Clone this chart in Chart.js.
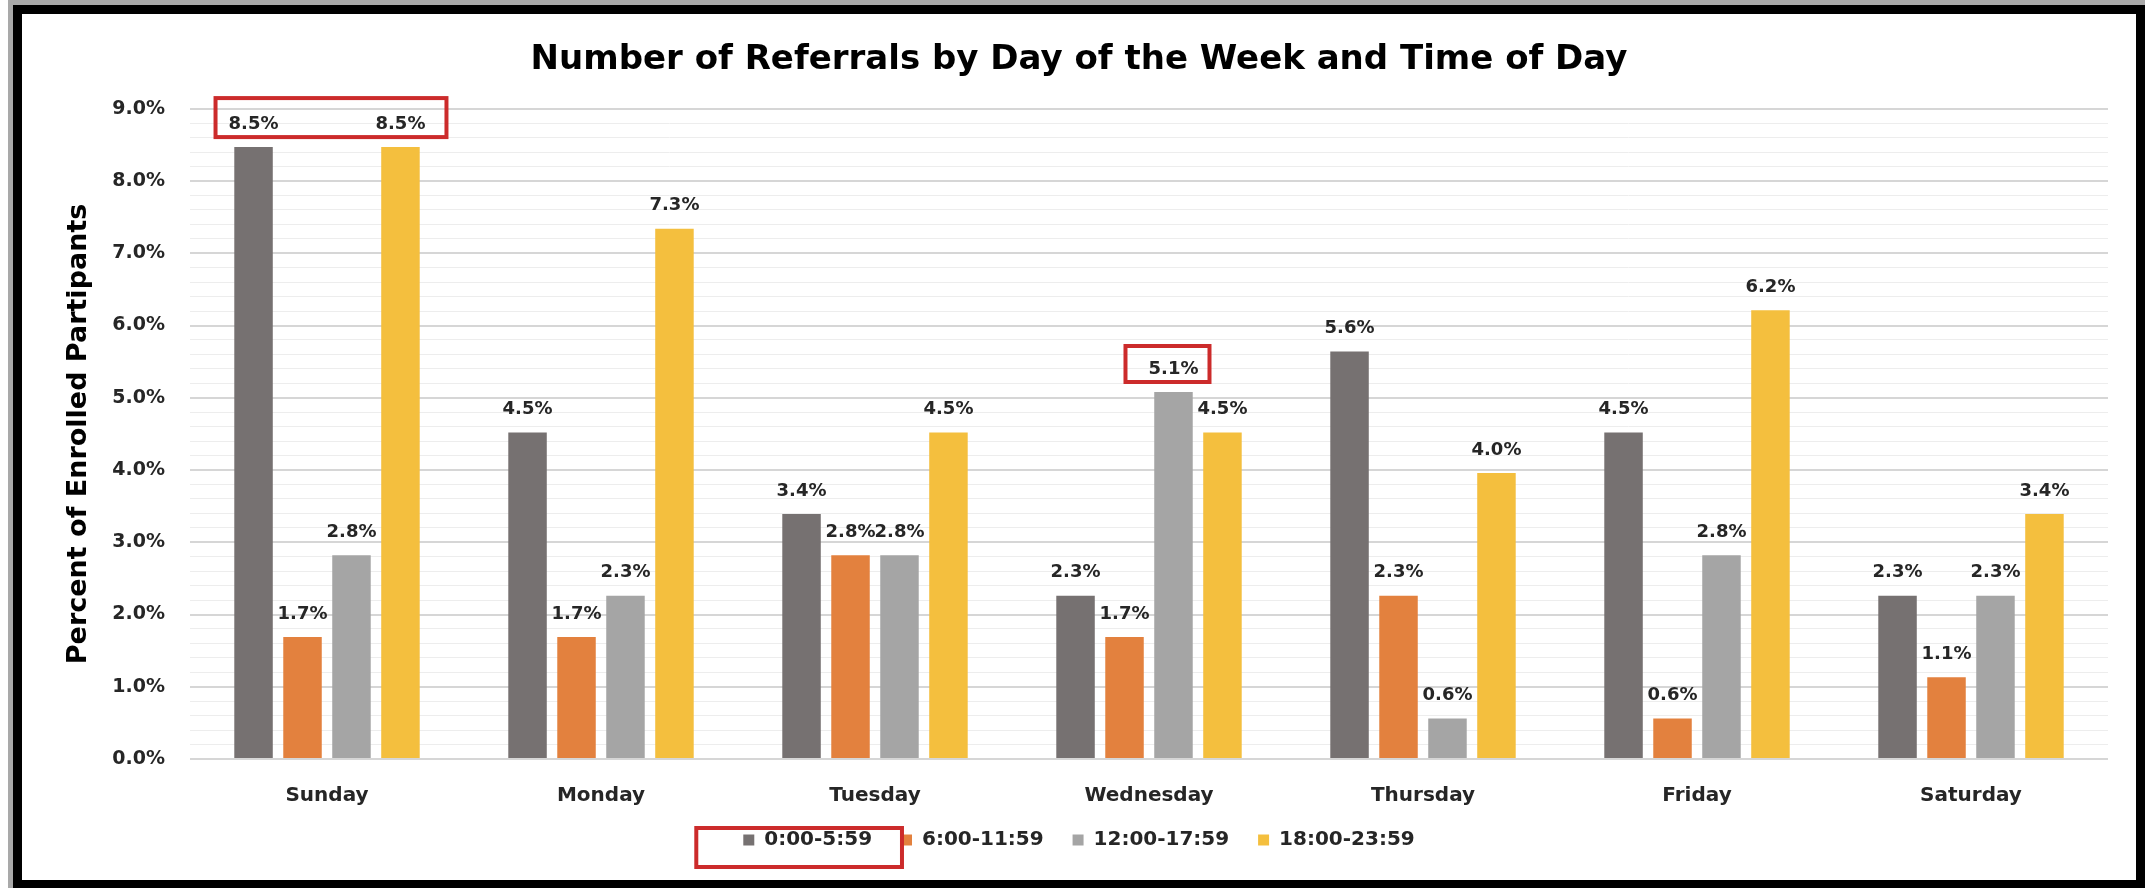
<!DOCTYPE html>
<html>
<head>
<meta charset="utf-8">
<script src="https://cdn.jsdelivr.net/npm/chart.js@4.4.1/dist/chart.umd.min.js"></script>
<style>
    body { margin: 0; background: #fff; }
    #strip { position: absolute; left: 8px; top: 0; width: 2137px; height: 888px; background: #a9a9a9; }
    #frame {
        position: absolute; left: 13px; top: 5px; width: 2132px; height: 883px;
        box-sizing: border-box; border: solid #000; border-width: 9px 9px 8px 9px; background: #fff;
    }
    #wrap { position: absolute; left: 0; top: 0; width: 2114px; height: 866px; }
</style>
</head>
<body>
<div id="strip"></div>
<div id="frame"><div id="wrap"><canvas id="chart"></canvas></div></div>
<script>
// Data
const days = ['Sunday', 'Monday', 'Tuesday', 'Wednesday', 'Thursday', 'Friday', 'Saturday'];
const timeSlots = ['0:00-5:59', '6:00-11:59', '12:00-17:59', '18:00-23:59'];
const night = [8.47, 4.52, 3.39, 2.26, 5.64, 4.52, 2.26];
const morning = [1.69, 1.69, 2.82, 1.69, 2.26, 0.56, 1.13];
const afternoon = [2.82, 2.26, 2.82, 5.08, 0.56, 2.82, 2.26];
const evening = [8.47, 7.34, 4.52, 4.52, 3.96, 6.21, 3.39];
const yTicks = { min: 0, max: 9, minor: 0.2 };

const colors = ['#767171', '#E3813E', '#A5A5A5', '#F4BF3E'];
const FONT = 'DejaVu Sans';

const isMajor = v => Math.abs(v - Math.round(v)) < 1e-6;

// Value labels over every bar
const valueLabels = {
    id: 'valueLabels',
    afterDatasetsDraw(chart) {
        const ctx = chart.ctx;
        ctx.save();
        ctx.font = `bold 18px "${FONT}"`;
        ctx.fillStyle = '#262626';
        ctx.textAlign = 'center';
        ctx.textBaseline = 'middle';
        chart.data.datasets.forEach((ds, i) => {
            chart.getDatasetMeta(i).data.forEach((bar, j) => {
                ctx.fillText(ds.data[j].toFixed(1) + '%', bar.x, bar.y - 23);
            });
        });
        ctx.restore();
    }
};

// Red highlight boxes drawn on top of the chart
const highlights = {
    id: 'highlights',
    afterDraw(chart) {
        const ctx = chart.ctx;
        const sunA = chart.getDatasetMeta(0).data[0];
        const sunD = chart.getDatasetMeta(3).data[0];
        const wed = chart.getDatasetMeta(2).data[3];
        const hb = chart.legend.legendHitBoxes;
        const mid = hb[0].top + hb[0].height / 2;
        const boxes = [
            [sunA.x - 38, sunA.y - 49, sunD.x + 46, sunA.y - 10],
            [wed.x - 48, wed.y - 46, wed.x + 36, wed.y - 10],
            [hb[0].left - 47, mid - 12, hb[1].left + 1, mid + 27]
        ];
        ctx.save();
        ctx.strokeStyle = '#CC2B2B';
        ctx.lineWidth = 4;
        boxes.forEach(([l, t, r, b]) => ctx.strokeRect(l, t, r - l, b - t));
        ctx.restore();
    }
};

new Chart(document.getElementById('chart'), {
    type: 'bar',
    data: {
        labels: days,
        datasets: [night, morning, afternoon, evening].map((d, i) => ({
            label: timeSlots[i],
            data: d,
            backgroundColor: colors[i],
            categoryPercentage: 0.715,
            barPercentage: 0.786
        }))
    },
    options: {
        responsive: true,
        maintainAspectRatio: false,
        animation: false,
        layout: { padding: { bottom: 20 } },
        plugins: {
            title: {
                display: true,
                text: 'Number of Referrals by Day of the Week and Time of Day',
                color: '#000',
                font: { family: FONT, size: 34, weight: 'bold' },
                padding: { top: 26, bottom: 28 }
            },
            legend: {
                position: 'bottom',
                labels: {
                    color: '#262626',
                    font: { family: FONT, size: 20, weight: 'bold' },
                    boxWidth: 11,
                    boxHeight: 11,
                    padding: 8,
                    // trailing spaces widen the gap between items without pushing the row down
                    generateLabels: chart => Chart.defaults.plugins.legend.labels.generateLabels(chart)
                        .map((item, i, all) => ({ ...item, text: i < all.length - 1 ? item.text + '   ' : item.text }))
                }
            },
            tooltip: { enabled: false }
        },
        scales: {
            x: {
                grid: { display: false },
                border: { display: false },
                ticks: {
                    color: '#262626',
                    font: { family: FONT, size: 20, weight: 'bold' },
                    padding: 17,
                    maxRotation: 0
                },
                afterFit: s => { s.height = 63; }
            },
            y: {
                min: yTicks.min,
                max: yTicks.max,
                border: { display: false },
                grid: {
                    drawTicks: false,
                    color: c => isMajor(c.tick.value) ? '#D6D6D6' : '#EDEDED',
                    lineWidth: c => isMajor(c.tick.value) ? 2 : 1
                },
                ticks: {
                    stepSize: yTicks.minor,
                    autoSkip: false,
                    padding: 25,
                    color: '#262626',
                    font: { family: FONT, size: 19, weight: 'bold' },
                    callback: v => isMajor(v) ? v.toFixed(1) + '%' : ''
                },
                title: {
                    display: true,
                    text: 'Percent of Enrolled Partipants',
                    color: '#000',
                    font: { family: FONT, size: 27, weight: 'bold' },
                    padding: { top: 41, bottom: 0 }
                },
                afterFit: s => { s.width = 168; }
            },
            yRight: {
                type: 'linear',
                position: 'right',
                grid: { display: false },
                border: { display: false },
                ticks: { display: false },
                afterFit: s => { s.width = 28; }
            }
        }
    },
    plugins: [valueLabels, highlights]
});
</script>
</body>
</html>
